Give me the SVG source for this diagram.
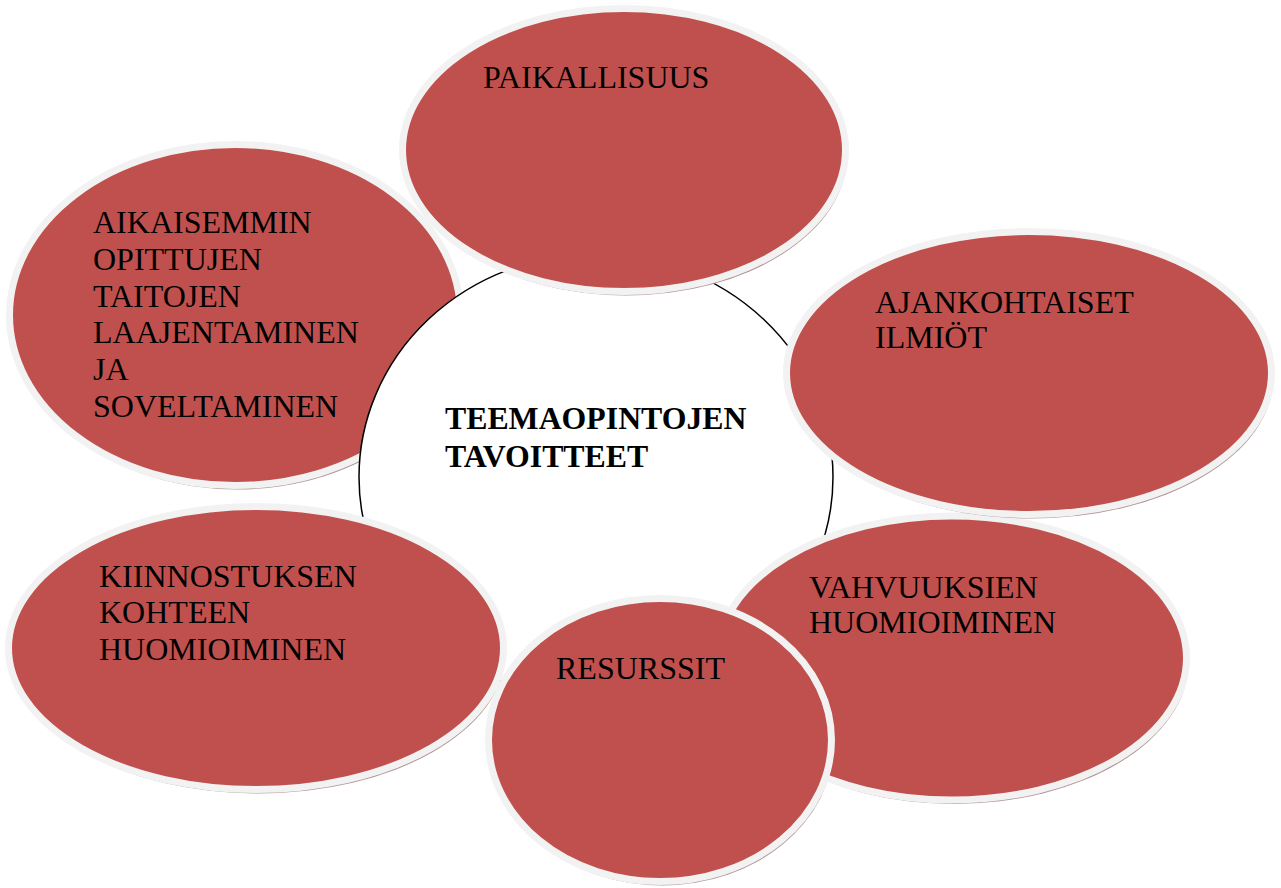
<svg xmlns="http://www.w3.org/2000/svg" width="1281" height="888" viewBox="0 0 1281 888">
<defs>
<style>
.shadow{fill:#b39494;}
.bubble{fill:#c0504d;stroke:#f2f2f2;stroke-width:7;}
text{font-family:'Liberation Serif','DejaVu Serif',serif;fill:#000;}
.lbl{font-size:32px;font-weight:normal;}
.center{font-size:31.8px;font-weight:bold;}
</style>
</defs>
<rect width="1281" height="888" fill="#ffffff"/>
<g id="aikaisemmin">
<ellipse class="shadow" cx="237" cy="319" rx="225.5" ry="170.5"/>
<ellipse class="bubble" cx="235" cy="315" rx="225.5" ry="170.5"/>
<text class="lbl" x="93" y="233">AIKAISEMMIN</text>
<text class="lbl" x="93" y="270">OPITTUJEN</text>
<text class="lbl" x="93" y="307">TAITOJEN</text>
<text class="lbl" x="93" y="343">LAAJENTAMINEN</text>
<text class="lbl" x="93" y="380">JA</text>
<text class="lbl" x="93" y="417">SOVELTAMINEN</text>
</g>
<g id="connectors"></g>
<g id="teemaopintojen">
<ellipse cx="596" cy="477" rx="237" ry="223" fill="#ffffff" stroke="#000" stroke-width="1.5"/>
<text class="center" x="445" y="429">TEEMAOPINTOJEN</text>
<text class="center" x="445" y="467">TAVOITTEET</text>
</g>
<g id="paikallisuus">
<ellipse class="shadow" cx="626" cy="154" rx="221.5" ry="141.5"/>
<ellipse class="bubble" cx="624" cy="150" rx="221.5" ry="141.5"/>
<text class="lbl" x="483" y="88">PAIKALLISUUS</text>
</g>
<g id="kiinnostuksen">
<ellipse class="shadow" cx="258" cy="652" rx="247.5" ry="141.5"/>
<ellipse class="bubble" cx="256" cy="648" rx="247.5" ry="141.5"/>
<text class="lbl" x="99" y="587">KIINNOSTUKSEN</text>
<text class="lbl" x="99" y="623">KOHTEEN</text>
<text class="lbl" x="99" y="660">HUOMIOIMINEN</text>
</g>
<g id="vahvuuksien">
<ellipse class="shadow" cx="954" cy="662" rx="234.5" ry="142"/>
<ellipse class="bubble" cx="952" cy="658" rx="234.5" ry="142"/>
<text class="lbl" x="809" y="598">VAHVUUKSIEN</text>
<text class="lbl" x="809" y="633">HUOMIOIMINEN</text>
</g>
<g id="ajankohtaiset">
<ellipse class="shadow" cx="1031" cy="377" rx="242.5" ry="141.5"/>
<ellipse class="bubble" cx="1029" cy="373" rx="242.5" ry="141.5"/>
<text class="lbl" x="875" y="313">AJANKOHTAISET</text>
<text class="lbl" x="875" y="348">ILMIÖT</text>
</g>
<g id="resurssit">
<ellipse class="shadow" cx="662" cy="744" rx="171.5" ry="141.5"/>
<ellipse class="bubble" cx="660" cy="740" rx="171.5" ry="141.5"/>
<text class="lbl" x="556" y="679">RESURSSIT</text>
</g>
</svg>
